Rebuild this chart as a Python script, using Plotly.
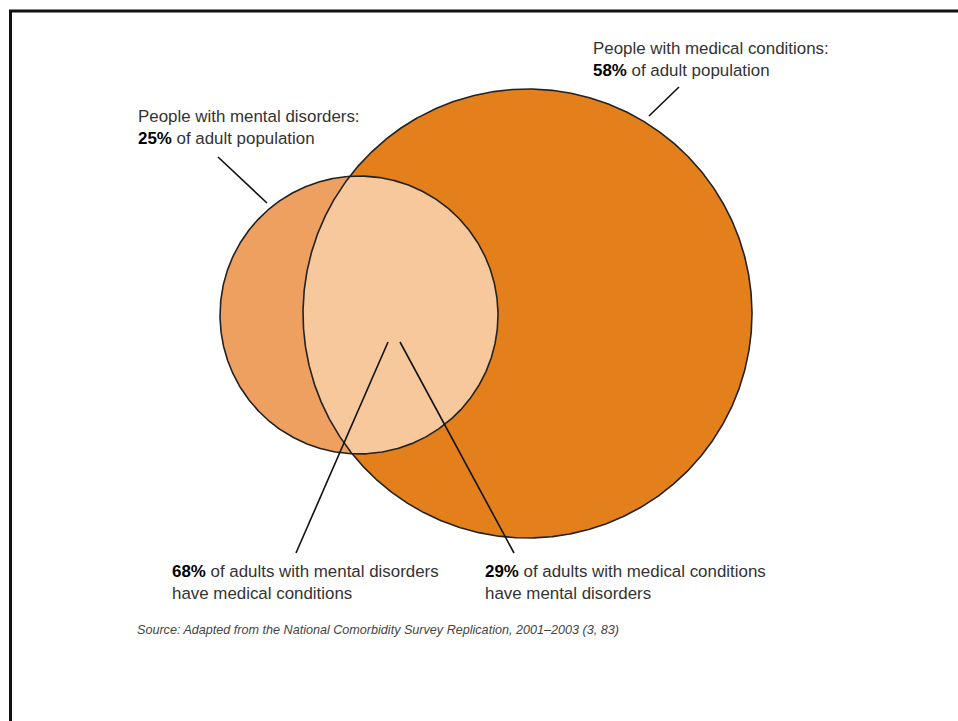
import numpy as np
import plotly.graph_objects as go

# ---- data ----
groups = ["People with mental disorders", "People with medical conditions"]
population_pct = [25, 58]          # share of adult population
comorbid_pct = [68, 29]            # % of the group that also belongs to the other group
comorbid_text = ["of adults with mental disorders<br>have medical conditions",
                 "of adults with medical conditions<br>have mental disorders"]
source_text = "Source: Adapted from the National Comorbidity Survey Replication, 2001\u20132003 (3, 83)"

# ---- layout geometry (pixel-like data space) ----
W, H = 958, 721
mental_center, mental_r = (359.0, 315.0), 139.0
medical_center, medical_r = (527.5, 313.5), 224.5

col_medical = "#E4801C"
col_mental = "#EDA05F"
col_overlap = "#F6C89B"
col_edge = "#222222"
font_family = "Liberation Sans, Arial, Helvetica, sans-serif"


def circle_pts(c, r, t0, t1, n=1500):
    t = np.linspace(t0, t1, n)
    return c[0] + r * np.cos(t), c[1] + r * np.sin(t)


fig = go.Figure()

# medical circle fill
mx, my = circle_pts(medical_center, medical_r, 0, 2 * np.pi)
fig.add_trace(go.Scatter(x=mx, y=my, mode="lines", fill="toself", fillcolor=col_medical,
                         line=dict(width=0), hoverinfo="skip", showlegend=False))
# mental circle fill
sx, sy = circle_pts(mental_center, mental_r, 0, 2 * np.pi)
fig.add_trace(go.Scatter(x=sx, y=sy, mode="lines", fill="toself", fillcolor=col_mental,
                         line=dict(width=0), hoverinfo="skip", showlegend=False))

# overlap lens
ax_, ay_ = circle_pts(mental_center, mental_r, -np.pi, np.pi, 4000)
m1 = (ax_ - medical_center[0]) ** 2 + (ay_ - medical_center[1]) ** 2 <= medical_r ** 2
bx_, by_ = circle_pts(medical_center, medical_r, 0, 2 * np.pi, 4000)
m2 = (bx_ - mental_center[0]) ** 2 + (by_ - mental_center[1]) ** 2 <= mental_r ** 2
lx = np.concatenate([ax_[m1], bx_[m2], ax_[m1][:1]])
ly = np.concatenate([ay_[m1], by_[m2], ay_[m1][:1]])
fig.add_trace(go.Scatter(x=lx, y=ly, mode="lines", fill="toself", fillcolor=col_overlap,
                         line=dict(width=0), hoverinfo="skip", showlegend=False))

# outlines
fig.add_trace(go.Scatter(x=mx, y=my, mode="lines", line=dict(color=col_edge, width=1.6),
                         hoverinfo="skip", showlegend=False))
fig.add_trace(go.Scatter(x=sx, y=sy, mode="lines", line=dict(color=col_edge, width=1.6),
                         hoverinfo="skip", showlegend=False))

# leader lines
leaders = [((679, 87), (649, 116)),
           ((218, 157), (267, 203)),
           ((388, 342), (296, 553)),
           ((400, 342), (514, 553))]
for (x0, y0), (x1, y1) in leaders:
    fig.add_trace(go.Scatter(x=[x0, x1], y=[y0, y1], mode="lines",
                             line=dict(color="#111111", width=1.6),
                             hoverinfo="skip", showlegend=False))

txt_col = "#333333"
fs = 16.9
anns = [
    (591, 59, f"{groups[1]}:<br><b style='color:#000'>{population_pct[1]}%</b> of adult population"),
    (136, 127, f"{groups[0]}:<br><b style='color:#000'>{population_pct[0]}%</b> of adult population"),
    (170, 582, f"<b style='color:#000'>{comorbid_pct[0]}%</b> {comorbid_text[0]}"),
    (483, 582, f"<b style='color:#000'>{comorbid_pct[1]}%</b> {comorbid_text[1]}"),
]
for x, y, t in anns:
    fig.add_annotation(x=x, y=y, text=t, showarrow=False, xanchor="left", yanchor="middle",
                       align="left", font=dict(family=font_family, size=fs, color=txt_col))
fig.add_annotation(x=135, y=630, text=f"<i>{source_text}</i>", showarrow=False,
                   xanchor="left", yanchor="middle", align="left",
                   font=dict(family=font_family, size=12.6, color="#444444"))

# frame lines (top and left)
fig.add_shape(type="line", x0=9, y0=11, x1=W, y1=11, line=dict(color="#111111", width=3))
fig.add_shape(type="line", x0=10.5, y0=10, x1=10.5, y1=H, line=dict(color="#111111", width=3))

fig.update_layout(
    width=W, height=H, margin=dict(l=0, r=0, t=0, b=0),
    paper_bgcolor="white", plot_bgcolor="white",
    xaxis=dict(range=[0, W], visible=False, fixedrange=True),
    yaxis=dict(range=[H, 0], visible=False, fixedrange=True),
    showlegend=False,
)
fig.write_html("out.html")
